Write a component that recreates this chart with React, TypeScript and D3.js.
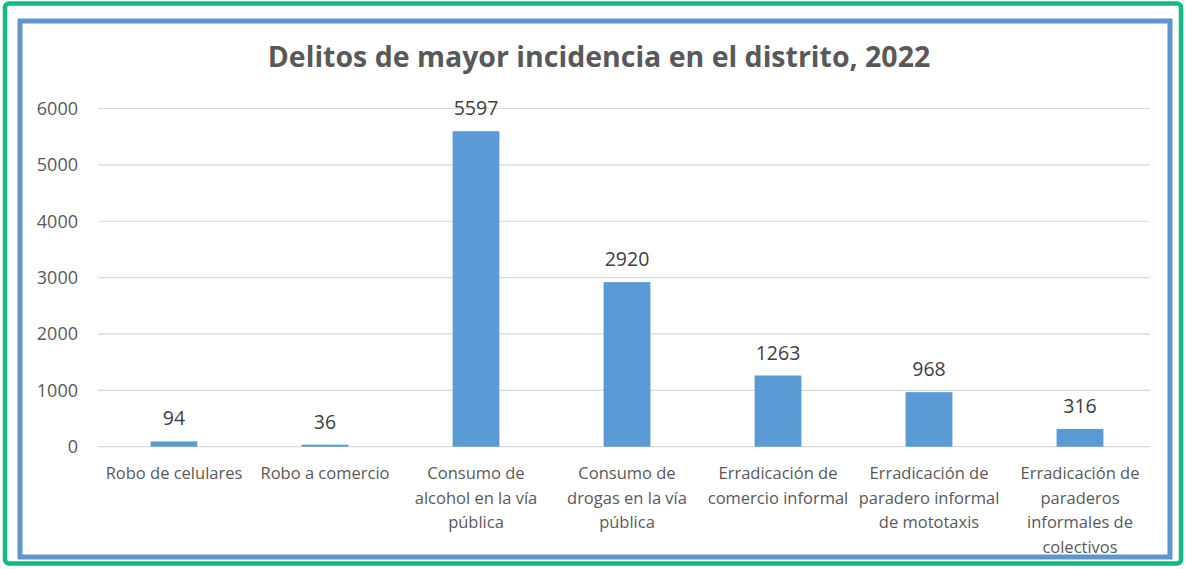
import React from "react";
import * as d3 from "d3";

const categories: string[][] = [
  ["Robo de celulares"],
  ["Robo a comercio"],
  ["Consumo de", "alcohol en la vía", "pública"],
  ["Consumo de", "drogas en la vía", "pública"],
  ["Erradicación de", "comercio informal"],
  ["Erradicación de", "paradero informal", "de mototaxis"],
  ["Erradicación de", "paraderos", "informales de", "colectivos"],
];
const values: number[] = [94, 36, 5597, 2920, 1263, 968, 316];
const yTicks: number[] = [0, 1000, 2000, 3000, 4000, 5000, 6000];
const title = "Delitos de mayor incidencia en el distrito, 2022";

const W = 1187;
const H = 569;
const FONT = "'Open Sans', 'Liberation Sans', sans-serif";

export default function App() {
  const x = d3
    .scaleBand<number>()
    .domain(d3.range(values.length))
    .range([98.5, 1155.5])
    .paddingInner(0.69)
    .paddingOuter(0.345);
  const y = d3.scaleLinear().domain([0, 6000]).range([446.7, 108.5]);

  return (
    <div style={{ position: "fixed", left: 0, top: 0 }}>
      <svg width={W} height={H} style={{ display: "block", background: "#fff" }}>
        <rect x={5} y={3.5} width={1176} height={560} rx={4} fill="#fff" stroke="#0dbb85" strokeWidth={4.5} />
        <rect x={20} y={21} width={1150} height={536} fill="#fff" stroke="#5f95cf" strokeWidth={5} />
        <text x={599} y={67} textAnchor="middle" fontFamily={FONT} fontWeight="bold" fontSize={28.5} fill="#595959">
          {title}
        </text>
        {yTicks.map((t) => (
          <g key={t}>
            <line x1={98} x2={1150} y1={y(t)} y2={y(t)} stroke="#d9d9d9" strokeWidth={1.2} />
            <text x={78} y={y(t)} dy="0.35em" textAnchor="end" fontFamily={FONT} fontSize={18} fill="#595959">
              {t}
            </text>
          </g>
        ))}
        {values.map((v, i) => (
          <g key={i}>
            <rect x={x(i)} y={y(v)} width={x.bandwidth()} height={y(0) - y(v)} fill="#5b9bd5" />
            <text
              x={(x(i) as number) + x.bandwidth() / 2}
              y={y(v) - 16}
              textAnchor="middle"
              fontFamily={FONT}
              fontSize={19.5}
              fill="#404040"
            >
              {v}
            </text>
            {categories[i].map((line, j) => (
              <text
                key={j}
                x={(x(i) as number) + x.bandwidth() / 2}
                y={479 + j * 24.5}
                textAnchor="middle"
                fontFamily={FONT}
                fontSize={16.5}
                fill="#595959"
              >
                {line}
              </text>
            ))}
          </g>
        ))}
      </svg>
    </div>
  );
}
